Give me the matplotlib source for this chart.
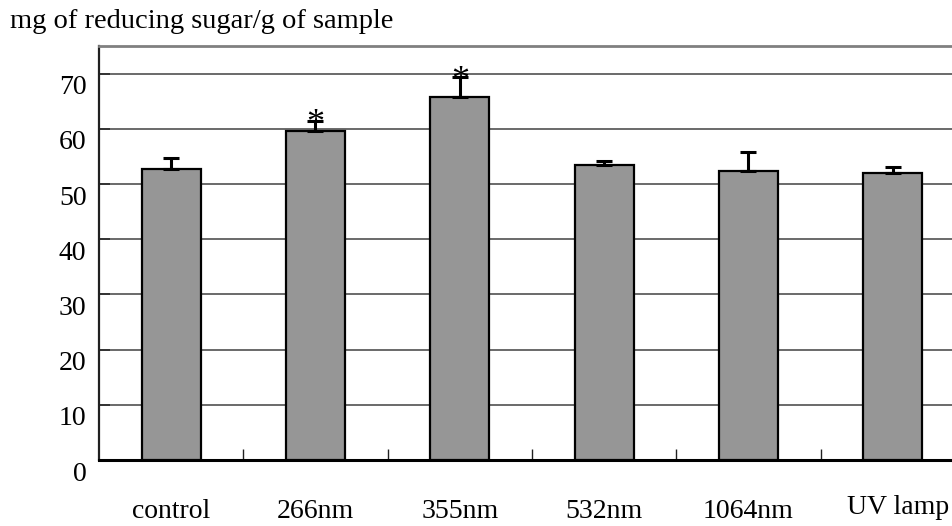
import numpy as np
import matplotlib
matplotlib.use('Agg')
import matplotlib.pyplot as plt
import matplotlib.transforms as mtransforms

# reducing sugar yield per treatment (mean, upper error), * = significant
groups = ['control', '266nm', '355nm', '532nm', '1064nm', 'UV lamp']
means = [52.7, 59.6, 65.8, 53.5, 52.4, 52.0]
errs = [2.0, 1.9, 3.5, 0.7, 3.4, 1.1]
signif = [False, True, True, False, False, False]

plt.rcParams['font.family'] = ['Liberation Serif', 'DejaVu Serif']

fig = plt.figure(figsize=(9.53, 5.26), dpi=100)
ax = fig.add_axes([99 / 953, 66 / 526, 866 / 953, 414 / 526])

x = np.arange(len(groups))
ax.bar(x, means, width=0.41, color='#969696', edgecolor='black',
       linewidth=1.6, zorder=3)
ax.errorbar(x, means, yerr=[np.zeros(len(errs)), errs], fmt='none',
            ecolor='black', elinewidth=2.2, capsize=5.5, capthick=2.2,
            zorder=4)

for xi, m, e, s in zip(x, means, errs, signif):
    if s:
        ax.annotate('*', (xi, m + e), xytext=(0, -9), textcoords='offset points',
                    ha='center', va='baseline', fontsize=26, zorder=5)

ax.set_xlim(-0.5, 5.5)
ax.set_ylim(0, 75)

ax.set_yticks(np.arange(0, 80, 10))
ax.yaxis.grid(True, color='#505050', linewidth=1.2, zorder=1)
ax.set_axisbelow(True)
ax.tick_params(axis='y', direction='in', length=8, width=1.3,
               color='#303030', labelsize=20, pad=9)
shift = mtransforms.ScaledTranslation(0, -8 / 72, fig.dpi_scale_trans)
for lbl in ax.get_yticklabels():
    lbl.set_transform(lbl.get_transform() + shift)

ax.set_xticks(x)
ax.set_xticklabels(groups)
ax.tick_params(axis='x', which='major', length=0, labelsize=20, pad=42)
for lbl in ax.get_xticklabels():
    lbl.set_verticalalignment('baseline')
# the last label sits a little higher
lift = mtransforms.ScaledTranslation(4 / 72, 3 / 72, fig.dpi_scale_trans)
last = ax.get_xticklabels()[-1]
last.set_transform(last.get_transform() + lift)
ax.set_xticks(x[:-1] + 0.5, minor=True)
ax.tick_params(axis='x', which='minor', direction='in', length=8,
               width=1.0, color='#202020')

ax.spines['left'].set_linewidth(1.6)
ax.spines['left'].set_color('#202020')
ax.spines['bottom'].set_color('black')
ax.spines['bottom'].set_linewidth(2.2)
ax.spines['top'].set_color('#808080')
ax.spines['top'].set_linewidth(2.0)
ax.spines['right'].set_visible(False)

fig.text(10 / 953, 1 - 21 / 526, 'mg of reducing sugar/g of sample',
         ha='left', va='center', fontsize=20.5)

fig.savefig('out.png', dpi=100)
